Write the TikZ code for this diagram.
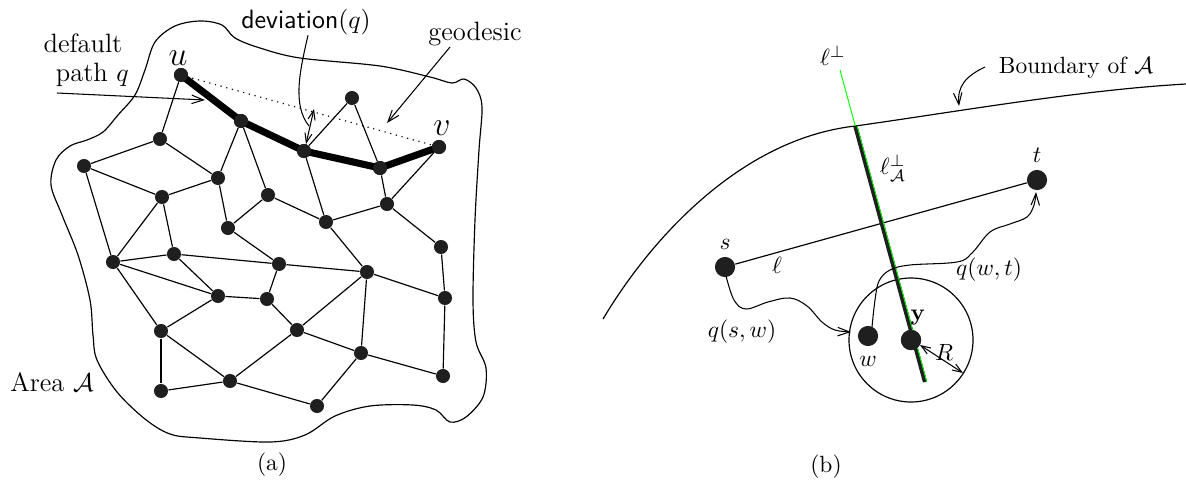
\documentclass[tikz,border=0pt]{standalone}
\usepackage{amsmath,amssymb}
\usetikzlibrary{arrows.meta}
\begin{document}
\begin{tikzpicture}[x=0.426pt,y=-0.426pt,
  dot/.style={circle,fill=black!88,inner sep=0pt,minimum size=6pt},
  bigdot/.style={circle,fill=black!88,inner sep=0pt,minimum size=8.6pt},
  edge/.style={line width=0.5pt},
  thickpath/.style={line width=3pt,line join=round},
  arr/.style={-{Straight Barb[length=5pt,width=3.6pt]},line width=0.45pt},
  darr/.style={{Straight Barb[length=4pt,width=3pt]}-{Straight Barb[length=4pt,width=3pt]},line width=0.45pt},
  lab/.style={font=\fontsize{11.3}{13.5}\selectfont,inner sep=0pt},
  labb/.style={font=\fontsize{10}{12}\selectfont,inner sep=0pt},
  biglab/.style={font=\fontsize{13.5}{15}\selectfont,inner sep=0pt}]
\useasboundingbox (0,0) rectangle (1186,479);

% ---------------- (a) ----------------
% area outline
\draw[line width=0.5pt] plot[smooth cycle,tension=0.55] coordinates {
 (155,42) (175,26) (200,21) (222,25) (235,38) (260,48) (300,58) (380,66)
 (430,77) (452,83) (464,79) (476,88) (482,107) (479,150) (475,220) (473,300)
 (476,342) (486,368) (483,397) (466,417) (450,422) (436,410) (413,405)
 (370,406) (335,416) (305,435) (270,442) (200,438) (170,434) (145,419)
 (117,392) (97,360) (93,335) (90,300) (78,255) (62,215) (51,185) (56,160)
 (70,146) (87,140) (103,132) (118,115) (135,95) (145,70)};

% nodes
\node[dot] (u) at (181,75) {};
\node[dot] (n2) at (241,121) {};
\node[dot] (n3) at (304,151) {};
\node[dot] (n4) at (380,168) {};
\node[dot] (v) at (439,147) {};
\node[dot] (m) at (352,98) {};
\node[dot] (A) at (160,139) {};
\node[dot] (B) at (84,166) {};
\node[dot] (C) at (218,178) {};
\node[dot] (D) at (162,197) {};
\node[dot] (E) at (268,195) {};
\node[dot] (F) at (228,228) {};
\node[dot] (G) at (113,262) {};
\node[dot] (H) at (174,254) {};
\node[dot] (I) at (218,296) {};
\node[dot] (J) at (267,299) {};
\node[dot] (K) at (279,264) {};
\node[dot] (P) at (387,204) {};
\node[dot] (Q) at (326,222) {};
\node[dot] (Rn) at (441,247) {};
\node[dot] (S) at (367,272) {};
\node[dot] (T) at (445,298) {};
\node[dot] (U) at (161,331) {};
\node[dot] (W) at (297,330) {};
\node[dot] (X) at (361,353) {};
\node[dot] (Y) at (443,376) {};
\node[dot] (Z) at (161,391) {};
\node[dot] (AA) at (230,381) {};
\node[dot] (BB) at (317,406) {};

% thin edges
\foreach \a/\b in {u/A, A/B, A/C, B/D, B/G, C/D, C/n2, C/F, n2/E, E/F, D/G, D/H,
  G/H, G/I, H/I, H/K, F/K, I/J, J/K, G/U, I/U, U/Z, U/AA, Z/AA, AA/W, AA/BB,
  J/W, W/S, W/X, X/S, X/BB, X/Y, Y/T, T/Rn, Rn/P, T/S, K/S, S/Q, Q/E, Q/P,
  Q/n3, P/n4, P/v, n3/m, m/n4}
  \draw[edge] (\a) -- (\b);

% geodesic (dotted)
\draw[line width=0.5pt,dotted] (u.center) -- (v.center);
% default path (thick)
\draw[thickpath] (u.center) -- (n2.center) -- (n3.center) -- (n4.center) -- (v.center);
\foreach \n in {u,n2,n3,n4,v} \fill[black!88] (\n) circle (7);

% labels (a)
\node[biglab] (ulab) at (178,58) {$u$};
\node[biglab] (vlab) at (442,128) {$v$};
\node[lab,align=center] (deflab) at (83,60) {default\\[-1pt]\hspace*{8pt}path $q$};
\coordinate (dst) at (57,93);
\coordinate (defend) at (205,100);
\draw[arr] (dst) -- (defend);
\node[lab] (devlab) at (306,22) {$\textsf{deviation}(q)$};
\coordinate (devA) at (314,109);
\coordinate (devB) at (306,144);
\draw[darr] (devA) -- (devB);
\draw[line width=0.45pt] (devlab.south) ++(2,0) .. controls (300,70) and (292,105) .. (309,126);
\node[lab] (geolab) at (475,34) {geodesic};
\coordinate (geost) at (450,47);
\coordinate (geoend) at (387,123);
\draw[arr] (geost) -- (geoend);
\node[lab] (arealab) at (52,382) {Area $\mathcal{A}$};
\node[labb] (alab) at (272,465) {(a)};

% ---------------- (b) ----------------
\coordinate (lptop) at (840,70);
\coordinate (lpb) at (855.3,126);
\coordinate (lpend) at (925,382);
\coordinate (bst) at (603,319);
\coordinate (ben) at (1186,84);
\draw[line width=0.5pt] (bst) .. controls (650,240) and (740,139) .. (lpb)
  .. controls (955,112) and (1080,90) .. (ben);
\node[labb] (bndlab) at (1076,68) {Boundary of $\mathcal{A}$};
\coordinate (bndst) at (985,67);
\coordinate (bndend) at (959,106);
\draw[arr] (bndst) .. controls (966,76) and (957,86) .. (bndend);

\node[bigdot] (s) at (725,267) {};
\node[bigdot] (t) at (1037,180) {};
\node[bigdot] (w) at (868,336) {};
\node[bigdot] (y) at (911,340) {};

\draw[line width=0.5pt] (s) -- (t);
\draw[line width=0.5pt] (y.center) circle[radius=62];

\draw[green,line width=0.4pt] (lptop) -- (lpb);
\draw[black!88,line width=1.8pt] (lpb) -- (lpend);
\draw[green,line width=0.35pt] ([xshift=0.75pt]lpb) -- ([xshift=0.75pt]lpend);
\node[bigdot] at (y) {};

\coordinate (swend) at (851,332);
\draw[arr] plot[smooth,tension=0.6] coordinates {
 (726,276) (734,300) (746,309) (768,302) (790,298) (807,306) (822,322) (835,330) (swend)};
\coordinate (wtend) at (1036,192);
\draw[arr] plot[smooth,tension=0.6] coordinates {
 (872,327) (875,300) (879,281) (890,270) (910,265) (957,262) (972,253) (990,232)
 (1010,224) (1027,217) (1034,205) (wtend)};

\coordinate (rA) at (920,345);
\coordinate (rB) at (963,373);
\draw[darr] (rA) -- (rB);

\node[labb] (slab) at (725,244) {$s$};
\node[labb] (tlab) at (1037,155) {$t$};
\node[labb] (elllab) at (777,265) {$\ell$};
\node[labb] (lperp) at (833,56) {$\ell^{\perp}$};
\node[labb] (lperpA) at (893,168) {$\ell^{\perp}_{\mathcal{A}}$};
\node[labb] (qswlab) at (742,332) {$q(s,w)$};
\node[labb] (wlab) at (868,361) {$w$};
\node[labb] (qwtlab) at (989,270) {$q(w,t)$};
\node[labb] (ylab) at (918,318) {$\mathbf{y}$};
\node[labb] (Rlab) at (944,352) {$R$};
\node[labb] (blab) at (826,467) {(b)};
\end{tikzpicture}
\end{document}
